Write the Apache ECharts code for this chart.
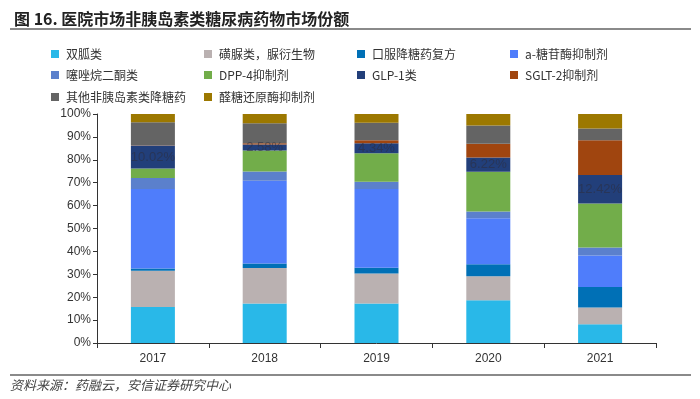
<!DOCTYPE html>
<html>
<head>
<meta charset="utf-8">
<script src="https://cdn.jsdelivr.net/npm/echarts@6/dist/echarts.min.js"></script>
<style>
html, body { margin: 0; padding: 0; background: #fff; }
#main { width: 700px; height: 399px; }
</style>
</head>
<body>
<div id="main"></div>
<script>
var years = ['2017', '2018', '2019', '2020', '2021'];
var names = ['双胍类', '磺脲类，脲衍生物', '口服降糖药复方', 'a-糖苷酶抑制剂', '噻唑烷二酮类',
    'DPP-4抑制剂', 'GLP-1类', 'SGLT-2抑制剂', '其他非胰岛素类降糖药', '醛糖还原酶抑制剂'];
var colors = ['#29b8e8', '#bab1b1', '#0070b6', '#4f7dfb', '#5b80cc',
    '#72ad4a', '#223f7a', '#a0450f', '#646464', '#9c7800'];

var biguanide = [15.7, 17.3, 17.2, 18.7, 8.2];
var sulfonylurea = [15.8, 15.4, 13.1, 10.5, 7.3];
var oralCombo = [1.0, 2.0, 2.6, 5.2, 9.0];
var alphaGluc = [34.8, 36.1, 34.4, 20.1, 13.7];
var tzd = [4.7, 4.1, 3.1, 2.9, 3.5];
var dpp4 = [4.2, 9.2, 12.5, 17.4, 19.2];
var glp1 = [10.02, 2.58, 4.34, 6.22, 12.42];
var sglt2 = [0.1, 0.6, 1.3, 6.0, 15.2];
var otherDrugs = [10.1, 8.7, 7.6, 8.0, 5.1];
var aldose = [3.58, 4.02, 3.86, 4.98, 6.38];

var yTicks = ['0%', '10%', '20%', '30%', '40%', '50%', '60%', '70%', '80%', '90%', '100%'];

var allData = [biguanide, sulfonylurea, oralCombo, alphaGluc, tzd, dpp4, glp1, sglt2, otherDrugs, aldose];

var myChart = echarts.init(document.getElementById('main'));

// legend: 4 columns, 3 rows, one component per item so columns line up
var legendX = [46, 199, 352, 505];
var legendY = [43, 64, 86];
var legends = [];
for (var i = 0; i < names.length; i++) {
    legends.push({
        left: legendX[i % 4],
        top: legendY[Math.floor(i / 4)],
        data: [names[i]],
        icon: 'rect',
        itemWidth: 8,
        itemHeight: 8,
        itemGap: 0,
        selectedMode: false,
        textStyle: { fontSize: 12, color: '#333', fontFamily: 'Noto Sans CJK SC', padding: [0, 0, 0, 2] }
    });
}

var series = [];
for (var j = 0; j < names.length; j++) {
    var s = {
        name: names[j],
        type: 'bar',
        stack: 'share',
        barWidth: 44,
        data: allData[j],
        itemStyle: { color: colors[j] }
    };
    if (j == 6) {
        s.label = {
            show: true,
            position: 'inside',
            formatter: function (p) { return p.value.toFixed(2) + '%'; },
            color: 'rgba(45,45,60,0.55)',
            fontSize: 13,
            fontFamily: 'Arial'
        };
    }
    series.push(s);
}

var option = {
    animation: false,
    title: {
        text: '图 16. 医院市场非胰岛素类糖尿病药物市场份额',
        left: 9,
        top: 6,
        textStyle: { fontSize: 16, fontWeight: 'bold', color: '#222', fontFamily: 'Noto Sans CJK SC' }
    },
    legend: legends,
    grid: { left: 97, right: 44, top: 114, bottom: 56, containLabel: false },
    xAxis: {
        type: 'category',
        data: years,
        axisLine: { lineStyle: { color: '#333', width: 1 } },
        axisTick: { show: true, length: 5, lineStyle: { color: '#333' } },
        axisLabel: { fontSize: 12, color: '#333', fontFamily: 'Arial', margin: 10 }
    },
    yAxis: {
        type: 'value',
        min: 0,
        max: 100,
        interval: 10,
        axisLine: { show: true, lineStyle: { color: '#333' } },
        axisTick: { show: true, length: 4, lineStyle: { color: '#333' } },
        splitLine: { show: false },
        axisLabel: {
            fontSize: 12, color: '#333', fontFamily: 'Arial', margin: 6,
            formatter: function (v) { return yTicks[Math.round(v / 10)]; }
        }
    },
    graphic: [
        { type: 'line', shape: { x1: 10, y1: 29, x2: 691, y2: 29 }, style: { stroke: '#8a8a8a', lineWidth: 2 } },
        { type: 'line', shape: { x1: 10, y1: 375, x2: 691, y2: 375 }, style: { stroke: '#8a8a8a', lineWidth: 2 } },
        {
            type: 'text', left: 10, top: 379,
            style: { text: '资料来源：药融云，安信证券研究中心', fontSize: 13, fontStyle: 'italic', fill: '#444', fontFamily: 'Noto Sans CJK SC' }
        }
    ],
    series: series
};

myChart.setOption(option);
</script>
</body>
</html>
